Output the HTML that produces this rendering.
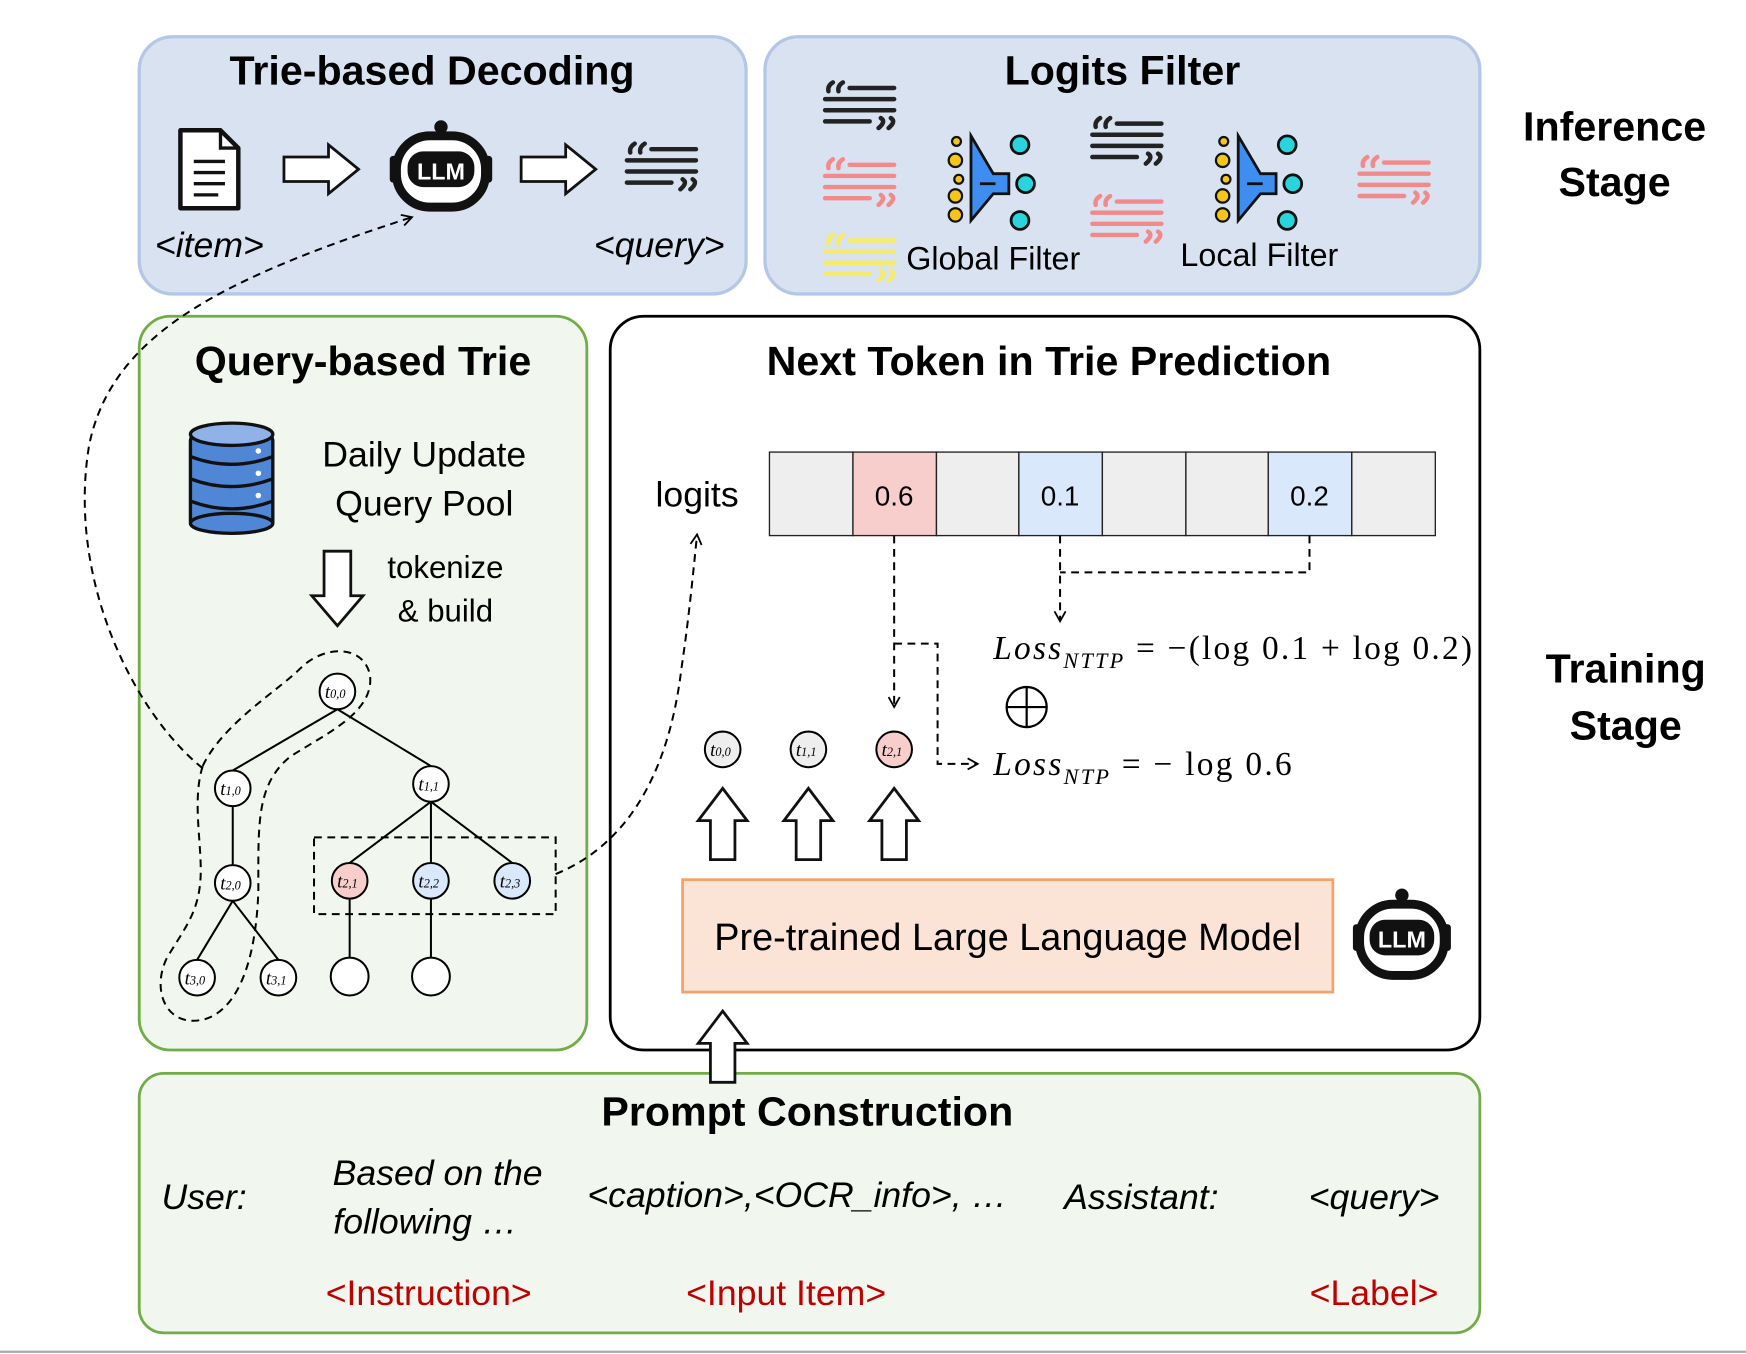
<!DOCTYPE html>
<html><head><meta charset="utf-8"><style>
html,body{margin:0;padding:0;background:#fff;}
svg{display:block;}
text{font-family:"Liberation Sans",sans-serif;}
.b{font-weight:bold;}
.s{font-family:"Liberation Serif",serif;font-style:italic;}
.m{font-family:"Liberation Serif",serif;}
</style></head><body>
<svg width="1746" height="1354" viewBox="0 0 1568 1216" xmlns="http://www.w3.org/2000/svg">
<defs>
<marker id="ah" markerWidth="12" markerHeight="12" refX="10" refY="6" orient="auto" markerUnits="userSpaceOnUse">
<path d="M1,1 L10,6 L1,11" fill="none" stroke="#000" stroke-width="1.6"/></marker>
<g id="q"><g stroke-width="4" stroke-linecap="round" fill="none">
<line x1="22" y1="4" x2="62" y2="4"/><line x1="0" y1="14" x2="62" y2="14"/><line x1="0" y1="24" x2="62" y2="24"/><line x1="0" y1="34" x2="40" y2="34"/>
<path d="M7,-1 Q2,2 3,7 M16,-1 Q11,2 12,7"/><path d="M50,31 Q55,34 48,40 M59,31 Q64,34 57,40"/></g></g>
<g id="f">
<polygon points="-16,-36 4,-2 18,-2 18,16 4,16 -16,40" fill="#3d8ef0" stroke="#111" stroke-width="2.5"/>
<line x1="-8" y1="7" x2="6" y2="7" stroke="#111" stroke-width="2.5"/>
<g fill="#f5c518" stroke="#111" stroke-width="2"><circle cx="-29" cy="-31" r="4"/><circle cx="-30" cy="-14" r="6"/><circle cx="-27" cy="3" r="4"/><circle cx="-30" cy="18" r="6"/><circle cx="-30" cy="35" r="6"/></g>
<g fill="#2ad4dc" stroke="#111" stroke-width="2.5"><circle cx="28" cy="-28" r="8"/><circle cx="33" cy="7" r="8"/><circle cx="28" cy="40" r="8"/></g>
</g>
</defs>

<rect x="125" y="33" width="545" height="231" rx="30" fill="#d9e2f1" stroke="#b4c7e7" stroke-width="3"/>
<rect x="687" y="33" width="642" height="231" rx="30" fill="#d9e2f1" stroke="#b4c7e7" stroke-width="3"/>
<rect x="125" y="284" width="402" height="659" rx="28" fill="#f1f6ee" stroke="#70ad47" stroke-width="2.5"/>
<rect x="548" y="284" width="781" height="659" rx="30" fill="#fff" stroke="#000" stroke-width="2.5"/>
<rect x="125" y="964" width="1204" height="233" rx="22" fill="#f1f6ee" stroke="#70ad47" stroke-width="2.5"/>
<line x1="0" y1="1214" x2="1568" y2="1214" stroke="#aaa" stroke-width="2"/>

<text x="388" y="76" font-size="37" text-anchor="middle" class="b">Trie-based Decoding</text>
<text x="1008" y="76" font-size="37" text-anchor="middle" class="b">Logits Filter</text>
<text x="326" y="337" font-size="37" text-anchor="middle" class="b">Query-based Trie</text>
<text x="942" y="337" font-size="37" text-anchor="middle" class="b">Next Token in Trie Prediction</text>
<text x="725" y="1011" font-size="37" text-anchor="middle" class="b">Prompt Construction</text>
<text x="1450" y="126" font-size="37" text-anchor="middle" class="b">Inference</text>
<text x="1450" y="176" font-size="37" text-anchor="middle" class="b">Stage</text>
<text x="1460" y="613" font-size="37" text-anchor="middle" class="b">Training</text>
<text x="1460" y="664" font-size="37" text-anchor="middle" class="b">Stage</text>

<path d="M162,117 H198 L214,133 V187 H162 Z" fill="#fff" stroke="#111" stroke-width="4" stroke-linejoin="round"/>
<path d="M198,117 V133 H214" fill="none" stroke="#111" stroke-width="3"/>
<g stroke="#111" stroke-width="3"><line x1="174" y1="145" x2="202" y2="145"/><line x1="174" y1="155" x2="202" y2="155"/><line x1="174" y1="165" x2="202" y2="165"/><line x1="174" y1="175" x2="196" y2="175"/></g>
<polygon points="255,141 295,141 295,130 322,152 295,174 295,163 255,163" fill="#fff" stroke="#111" stroke-width="2.5"/>
<polygon points="468,141 508,141 508,130 535,152 508,174 508,163 468,163" fill="#fff" stroke="#111" stroke-width="2.5"/>
<g>
<circle cx="396" cy="114" r="6" fill="#111"/><line x1="396" y1="114" x2="396" y2="124" stroke="#111" stroke-width="5"/>
<rect x="356" y="122" width="80" height="64" rx="30" fill="#fff" stroke="#111" stroke-width="8"/>
<rect x="350" y="140" width="8" height="24" rx="3" fill="#111"/><rect x="434" y="140" width="8" height="24" rx="3" fill="#111"/>
<rect x="366" y="136" width="60" height="32" rx="14" fill="#111"/>
<text x="396" y="161" font-size="21" font-weight="bold" fill="#fff" text-anchor="middle">LLM</text>
</g>
<use href="#q" x="563" y="130" stroke="#222"/>
<text x="188" y="231" font-size="32" text-anchor="middle" font-style="italic">&lt;item&gt;</text>
<text x="592" y="231" font-size="32" text-anchor="middle" font-style="italic">&lt;query&gt;</text>

<use href="#q" x="741" y="75" stroke="#222"/>
<use href="#q" x="741" y="144" stroke="#f38a8a"/>
<use href="#q" x="741" y="212" stroke="#f7ec6a"/>
<use href="#q" x="981" y="107" stroke="#222"/>
<use href="#q" x="981" y="177" stroke="#f38a8a"/>
<use href="#q" x="1221" y="142" stroke="#f38a8a"/>
<use href="#f" x="888" y="158"/>
<use href="#f" x="1128" y="158"/>
<text x="892" y="242" font-size="29" text-anchor="middle">Global Filter</text>
<text x="1131" y="239" font-size="29" text-anchor="middle">Local Filter</text>

<g>
<rect x="171" y="390" width="74" height="84" fill="#4f86d6" stroke="#111" stroke-width="3" rx="6"/>
<ellipse cx="208" cy="390" rx="37" ry="10" fill="#8fb3e8" stroke="#111" stroke-width="3"/>
<path d="M171,410 Q208,424 245,410 M171,430 Q208,444 245,430 M171,450 Q208,464 245,450" fill="none" stroke="#111" stroke-width="3"/>
<ellipse cx="208" cy="470" rx="37" ry="9" fill="#4f86d6" stroke="#111" stroke-width="3"/>
<g fill="#fff"><circle cx="232" cy="405" r="2.5"/><circle cx="232" cy="425" r="2.5"/><circle cx="232" cy="445" r="2.5"/></g>
</g>
<text x="381" y="419" font-size="32" text-anchor="middle">Daily Update</text>
<text x="381" y="463" font-size="32" text-anchor="middle">Query Pool</text>
<polygon points="291,495 315,495 315,535 326,535 303,562 280,535 291,535" fill="#fff" stroke="#111" stroke-width="2.5"/>
<text x="400" y="519" font-size="28" text-anchor="middle">tokenize</text>
<text x="400" y="558" font-size="28" text-anchor="middle">&amp; build</text>

<g stroke="#000" stroke-width="1.8">
<line x1="303" y1="637" x2="209" y2="692"/><line x1="303" y1="637" x2="387" y2="688"/>
<line x1="209" y1="724" x2="209" y2="777"/>
<line x1="209" y1="809" x2="177" y2="862"/><line x1="209" y1="809" x2="250" y2="862"/>
<line x1="387" y1="720" x2="314" y2="775"/><line x1="387" y1="720" x2="387" y2="775"/><line x1="387" y1="720" x2="460" y2="775"/>
<line x1="314" y1="807" x2="314" y2="861"/><line x1="387" y1="807" x2="387" y2="861"/>
</g>
<g stroke="#000" stroke-width="1.8" fill="#fff">
<circle cx="303" cy="621" r="16"/><circle cx="209" cy="708" r="16"/><circle cx="387" cy="704" r="16"/>
<circle cx="209" cy="793" r="16"/><circle cx="314" cy="791" r="16" fill="#f8cecc"/><circle cx="387" cy="791" r="16" fill="#dae8fc"/><circle cx="460" cy="791" r="16" fill="#dae8fc"/>
<circle cx="177" cy="878" r="16"/><circle cx="250" cy="878" r="16"/><circle cx="314" cy="877" r="17"/><circle cx="387" cy="877" r="17"/>
</g>
<g text-anchor="middle">
<text x="301" y="627" font-size="17" class="s">t<tspan font-size="11">0,0</tspan></text>
<text x="207" y="714" font-size="17" class="s">t<tspan font-size="11">1,0</tspan></text>
<text x="385" y="710" font-size="17" class="s">t<tspan font-size="11">1,1</tspan></text>
<text x="207" y="799" font-size="17" class="s">t<tspan font-size="11">2,0</tspan></text>
<text x="312" y="797" font-size="17" class="s">t<tspan font-size="11">2,1</tspan></text>
<text x="385" y="797" font-size="17" class="s">t<tspan font-size="11">2,2</tspan></text>
<text x="458" y="797" font-size="17" class="s">t<tspan font-size="11">2,3</tspan></text>
<text x="175" y="884" font-size="17" class="s">t<tspan font-size="11">3,0</tspan></text>
<text x="248" y="884" font-size="17" class="s">t<tspan font-size="11">3,1</tspan></text>
</g>
<rect x="282" y="752" width="217" height="69" fill="none" stroke="#000" stroke-width="1.8" stroke-dasharray="7,5"/>
<path d="M182,688 C200,650 250,620 270,600 C290,580 325,578 332,605 C338,640 290,660 260,680 C230,705 232,740 232,800 C230,860 215,905 185,915 C150,925 135,890 150,860 C165,835 178,820 180,790 C182,760 172,720 182,688 Z" fill="none" stroke="#000" stroke-width="1.8" stroke-dasharray="7,5"/>
<path d="M182,690 C120,640 60,520 80,400 C100,300 200,250 370,195" fill="none" stroke="#000" stroke-width="1.8" stroke-dasharray="7,5" marker-end="url(#ah)"/>
<path d="M499,785 C560,760 600,700 612,600 C618,560 622,520 626,480" fill="none" stroke="#000" stroke-width="1.8" stroke-dasharray="7,5" marker-end="url(#ah)"/>

<text x="626" y="455" font-size="32" text-anchor="middle">logits</text>
<g stroke="#222" stroke-width="1.2">
<rect x="691" y="406" width="75" height="75" fill="#eeeeee"/>
<rect x="766" y="406" width="75" height="75" fill="#f8cecc"/>
<rect x="841" y="406" width="74" height="75" fill="#eeeeee"/>
<rect x="915" y="406" width="75" height="75" fill="#dae8fc"/>
<rect x="990" y="406" width="75" height="75" fill="#eeeeee"/>
<rect x="1065" y="406" width="74" height="75" fill="#eeeeee"/>
<rect x="1139" y="406" width="75" height="75" fill="#dae8fc"/>
<rect x="1214" y="406" width="75" height="75" fill="#eeeeee"/>
</g>
<text x="803" y="454" font-size="25" text-anchor="middle">0.6</text>
<text x="952" y="454" font-size="25" text-anchor="middle">0.1</text>
<text x="1176" y="454" font-size="25" text-anchor="middle">0.2</text>
<g fill="none" stroke="#000" stroke-width="1.8" stroke-dasharray="7,5">
<path d="M952,481 V558" marker-end="url(#ah)"/>
<path d="M1176,481 V514 H952"/>
<path d="M803,481 V635" marker-end="url(#ah)"/>
<path d="M803,578 H842 V686 H878" marker-end="url(#ah)"/>
</g>
<text x="892" y="592" font-size="30" class="m" textLength="430" lengthAdjust="spacing"><tspan font-style="italic">Loss</tspan><tspan font-style="italic" font-size="20" dy="8">NTTP</tspan><tspan dy="-8"> = −(log 0.1 + log 0.2)</tspan></text>
<circle cx="922" cy="635" r="18" fill="none" stroke="#000" stroke-width="2"/>
<line x1="904" y1="635" x2="940" y2="635" stroke="#000" stroke-width="2"/><line x1="922" y1="617" x2="922" y2="653" stroke="#000" stroke-width="2"/>
<text x="892" y="696" font-size="30" class="m" textLength="268" lengthAdjust="spacing"><tspan font-style="italic">Loss</tspan><tspan font-style="italic" font-size="20" dy="8">NTP</tspan><tspan dy="-8"> = − log 0.6</tspan></text>

<g stroke="#000" stroke-width="1.8">
<circle cx="649" cy="673" r="16" fill="#eeeeee"/><circle cx="726" cy="673" r="16" fill="#eeeeee"/><circle cx="803" cy="673" r="16" fill="#f8cecc"/>
</g>
<g text-anchor="middle">
<text x="647" y="679" font-size="17" class="s">t<tspan font-size="11">0,0</tspan></text>
<text x="724" y="679" font-size="17" class="s">t<tspan font-size="11">1,1</tspan></text>
<text x="801" y="679" font-size="17" class="s">t<tspan font-size="11">2,1</tspan></text>
</g>
<g fill="#fff" stroke="#111" stroke-width="2.5">
<polygon points="638,772 660,772 660,737 671,737 649,708 627,737 638,737"/>
<polygon points="715,772 737,772 737,737 748,737 726,708 704,737 715,737"/>
<polygon points="792,772 814,772 814,737 825,737 803,708 781,737 792,737"/>
<polygon points="638,972 660,972 660,937 671,937 649,908 627,937 638,937"/>
</g>

<rect x="613" y="790" width="584" height="101" fill="#fbe3d6" stroke="#f4a46b" stroke-width="2.5"/>
<text x="905" y="853" font-size="34" text-anchor="middle">Pre-trained Large Language Model</text>
<g transform="translate(1259,842)">
<circle cx="0" cy="-38" r="6" fill="#111"/><line x1="0" y1="-38" x2="0" y2="-28" stroke="#111" stroke-width="5"/>
<rect x="-38" y="-30" width="76" height="64" rx="30" fill="#fff" stroke="#111" stroke-width="8"/>
<rect x="-44" y="-12" width="8" height="24" rx="3" fill="#111"/><rect x="36" y="-12" width="8" height="24" rx="3" fill="#111"/>
<rect x="-29" y="-16" width="58" height="32" rx="14" fill="#111"/>
<text x="0" y="9" font-size="21" font-weight="bold" fill="#fff" text-anchor="middle">LLM</text>
</g>

<g font-size="32" font-style="italic">
<text x="145" y="1086">User:</text>
<text x="393" y="1064" text-anchor="middle">Based on the</text>
<text x="382" y="1108" text-anchor="middle">following …</text>
<text x="716" y="1084" text-anchor="middle">&lt;caption&gt;,&lt;OCR_info&gt;, …</text>
<text x="1025" y="1086" text-anchor="middle">Assistant:</text>
<text x="1234" y="1086" text-anchor="middle">&lt;query&gt;</text>
</g>
<g font-size="32" fill="#c00000" text-anchor="middle">
<text x="385" y="1172">&lt;Instruction&gt;</text>
<text x="706" y="1172">&lt;Input Item&gt;</text>
<text x="1234" y="1172">&lt;Label&gt;</text>
</g>
</svg>
</body></html>
